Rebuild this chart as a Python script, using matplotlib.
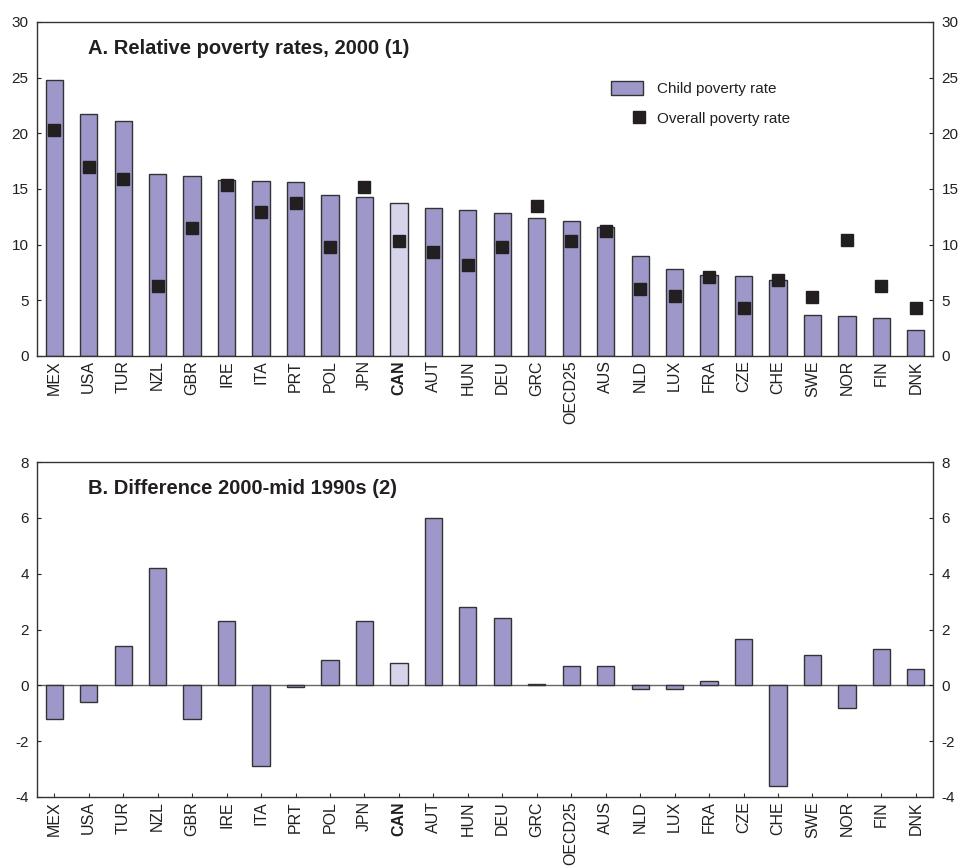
import matplotlib
matplotlib.use("Agg")
import matplotlib.pyplot as plt
import numpy as np
from matplotlib.patches import Patch
from matplotlib.lines import Line2D
from matplotlib.legend_handler import HandlerLine2D

plt.rcParams['font.family'] = ['Liberation Sans', 'DejaVu Sans']
plt.rcParams['axes.unicode_minus'] = False

countries = ["MEX", "USA", "TUR", "NZL", "GBR", "IRE", "ITA", "PRT", "POL", "JPN",
             "CAN", "AUT", "HUN", "DEU", "GRC", "OECD25", "AUS", "NLD", "LUX", "FRA",
             "CZE", "CHE", "SWE", "NOR", "FIN", "DNK"]

# Panel A: poverty rates in 2000, per cent
child_poverty = [24.8, 21.7, 21.1, 16.3, 16.2, 15.8, 15.7, 15.6, 14.5, 14.3,
                 13.7, 13.3, 13.1, 12.8, 12.4, 12.1, 11.6, 9.0, 7.8, 7.3,
                 7.2, 6.8, 3.7, 3.6, 3.4, 2.3]
overall_poverty = [20.3, 17.0, 15.9, 6.3, 11.5, 15.4, 12.9, 13.7, 9.8, 15.2,
                   10.3, 9.3, 8.2, 9.8, 13.5, 10.3, 11.2, 6.0, 5.4, 7.1,
                   4.3, 6.8, 5.3, 10.4, 6.3, 4.3]

# Panel B: change in child poverty rate, 2000 vs mid-1990s
child_change = [-1.2, -0.6, 1.4, 4.2, -1.2, 2.3, -2.9, -0.05, 0.9, 2.3,
                0.8, 6.0, 2.8, 2.4, 0.05, 0.7, 0.7, -0.12, -0.12, 0.15,
                1.65, -3.6, 1.1, -0.8, 1.3, 0.6]

highlight = "CAN"
bar_col = "#9d98c9"
hl_col = "#d6d4ea"
edge_col = "#333333"
text_col = "#231f20"


class RightMarkerHandler(HandlerLine2D):
    # put the legend marker near the right edge of the handle box
    def get_xdata(self, legend, xdescent, ydescent, width, height, fontsize):
        c = width - xdescent - 3.0
        return np.array([c - 1, c + 1]), np.array([c])


fig = plt.figure(figsize=(9.59, 8.68), dpi=100)
axA = fig.add_axes([0.0386, 0.5899, 0.9344, 0.3848])
axB = fig.add_axes([0.0386, 0.0818, 0.9344, 0.3859])

x = np.arange(len(countries))
colors = [hl_col if c == highlight else bar_col for c in countries]


def style_axis(ax, ylim, step):
    ax.set_xlim(-0.5, len(countries) - 0.5)
    ax.set_ylim(*ylim)
    ax.set_yticks(np.arange(ylim[0], ylim[1] + step / 2, step))
    ax.set_xticks(x)
    ax.set_xticklabels(countries, rotation=90, fontsize=11.5, color=text_col)
    for lab in ax.get_xticklabels():
        if lab.get_text() == highlight:
            lab.set_fontweight("bold")
    ax.tick_params(axis="x", direction="in", length=3, width=0.8, pad=3, color=edge_col)
    ax.tick_params(axis="y", direction="in", length=3, width=0.8, labelsize=11,
                   left=True, right=True, labelleft=True, labelright=True,
                   colors=text_col, pad=6)
    for s in ax.spines.values():
        s.set_linewidth(1.0)
        s.set_color(edge_col)


# Panel A
axA.bar(x, child_poverty, width=0.5, color=colors, edgecolor=edge_col, linewidth=1.0, zorder=2)
axA.plot(x, overall_poverty, linestyle="none", marker="s", markersize=9,
         color="#231f20", zorder=3)
style_axis(axA, (0, 30), 5)
axA.text(0.057, 0.922, "A. Relative poverty rates, 2000 (1)", transform=axA.transAxes,
         fontsize=14.5, fontweight="bold", color=text_col, va="center")

bar_handle = Patch(facecolor=bar_col, edgecolor=edge_col, linewidth=1.0)
dot_handle = Line2D([], [], linestyle="none", marker="s", markersize=9, color="#231f20")
axA.legend([bar_handle, dot_handle], ["Child poverty rate", "Overall poverty rate"],
           loc="upper left", bbox_to_anchor=(0.625, 0.865), frameon=False,
           fontsize=11, handlelength=2.1, handleheight=1.1, labelspacing=0.95,
           handletextpad=0.9, labelcolor=text_col,
           handler_map={dot_handle: RightMarkerHandler(numpoints=1)})

# Panel B
axB.bar(x, child_change, width=0.5, color=colors, edgecolor=edge_col, linewidth=1.0, zorder=2)
axB.axhline(0, color="#666666", linewidth=1.0, zorder=1)
style_axis(axB, (-4, 8), 2)
axB.text(0.057, 0.922, "B. Difference 2000-mid 1990s (2)", transform=axB.transAxes,
         fontsize=14.5, fontweight="bold", color=text_col, va="center")

fig.savefig("out.png", dpi=100)
